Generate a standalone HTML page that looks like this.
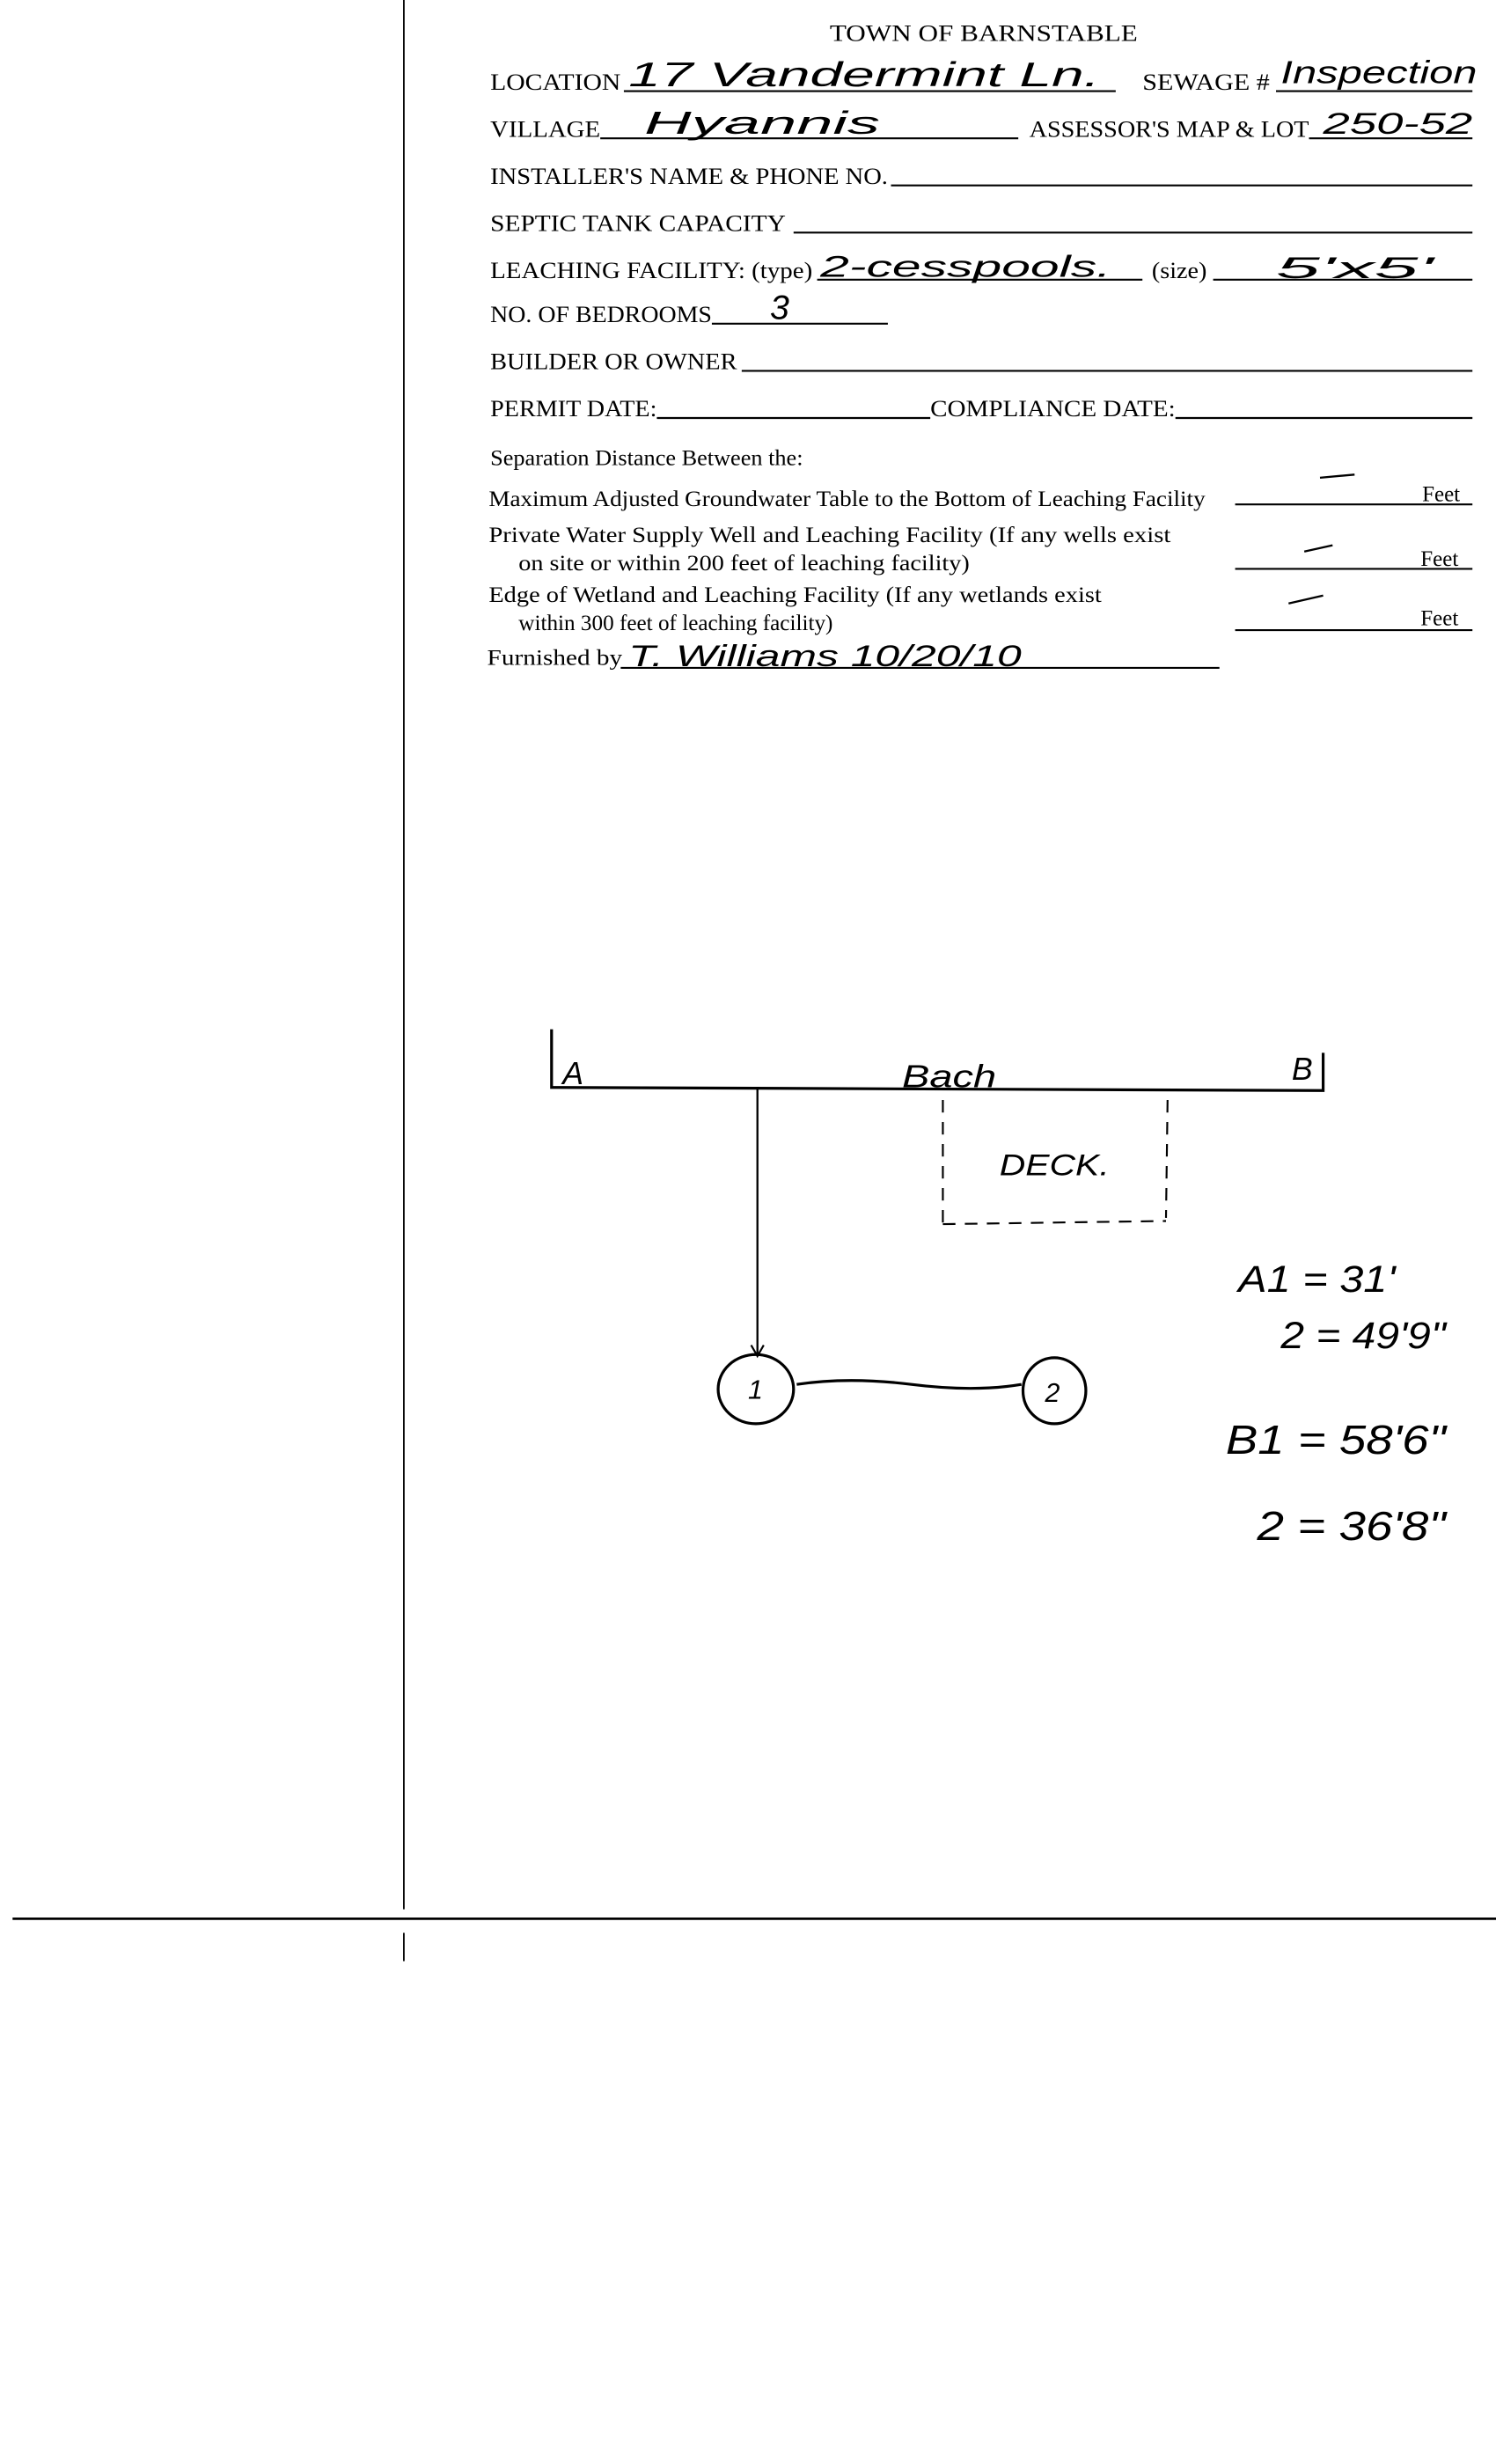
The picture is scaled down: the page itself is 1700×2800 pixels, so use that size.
<!DOCTYPE html>
<html><head><meta charset="utf-8"><style>
html,body{margin:0;padding:0;background:#fff;}
svg{display:block;}
.f{font-family:"Liberation Serif",serif;font-size:15px;fill:#000;}
.s{font-family:"Liberation Serif",serif;font-size:14px;fill:#000;}
.h{font-family:"DejaVu Sans ExtraLight","Liberation Sans",sans-serif;font-style:italic;fill:#000;font-weight:200;}
</style></head><body>
<svg width="1700" height="2800" viewBox="0 0 952 1568" preserveAspectRatio="none" xmlns="http://www.w3.org/2000/svg">
<rect width="952" height="1568" fill="#fff"/>
<g stroke="#000" fill="none">
<line x1="257" y1="0" x2="257" y2="1215" stroke-width="1"/>
<line x1="257" y1="1230" x2="257" y2="1248" stroke-width="1"/>
<line x1="8" y1="1221" x2="952" y2="1221" stroke-width="1.5"/>
<g stroke-width="1.2">
<line x1="397" y1="58" x2="710" y2="58"/><line x1="812" y1="58" x2="937" y2="58"/>
<line x1="382" y1="88" x2="648" y2="88"/><line x1="833" y1="88" x2="937" y2="88"/>
<line x1="567" y1="118" x2="937" y2="118"/>
<line x1="505" y1="148" x2="937" y2="148"/>
<line x1="520" y1="178" x2="727" y2="178"/><line x1="772" y1="178" x2="937" y2="178"/>
<line x1="453" y1="206" x2="565" y2="206"/>
<line x1="472" y1="236" x2="937" y2="236"/>
<line x1="418" y1="266" x2="592" y2="266"/><line x1="748" y1="266" x2="937" y2="266"/>
<line x1="786" y1="321" x2="937" y2="321"/>
<line x1="786" y1="362" x2="937" y2="362"/>
<line x1="786" y1="401" x2="937" y2="401"/>
<line x1="395" y1="425" x2="776" y2="425"/>
</g>
<g stroke-width="1.3">
<line x1="840" y1="304" x2="862" y2="302"/>
<line x1="830" y1="351" x2="848" y2="347"/>
<line x1="820" y1="384" x2="842" y2="379"/>
</g>
<g stroke-width="1.8">
<polyline points="351,655 351,692 842,694 842,670"/>
<line x1="482" y1="693" x2="482" y2="862" stroke-width="1.3"/>
<polyline points="478,856 482,863 486,856" stroke-width="1.2"/>
<ellipse cx="481" cy="884" rx="24" ry="22"/>
<ellipse cx="671" cy="885" rx="20" ry="21"/>
<path d="M507 881 Q540 876 580 881 T650 881"/>
</g>
<g stroke-width="1.2" stroke-dasharray="8,6">
<line x1="600" y1="700" x2="600" y2="780"/>
<line x1="743" y1="700" x2="742" y2="775"/>
<line x1="600" y1="779" x2="742" y2="777"/>
</g>
</g>
<text class="f" x="626" y="26" text-anchor="middle" textLength="196" lengthAdjust="spacingAndGlyphs">TOWN OF BARNSTABLE</text>
<text class="f" x="312" y="57" textLength="83" lengthAdjust="spacingAndGlyphs">LOCATION</text>
<text class="f" x="727" y="57" textLength="81" lengthAdjust="spacingAndGlyphs">SEWAGE #</text>
<text class="f" x="312" y="87" textLength="70" lengthAdjust="spacingAndGlyphs">VILLAGE</text>
<text class="f" x="655" y="87" textLength="178" lengthAdjust="spacingAndGlyphs">ASSESSOR'S MAP &amp; LOT</text>
<text class="f" x="312" y="117" textLength="253" lengthAdjust="spacingAndGlyphs">INSTALLER'S NAME &amp; PHONE NO.</text>
<text class="f" x="312" y="147" textLength="188" lengthAdjust="spacingAndGlyphs">SEPTIC TANK CAPACITY</text>
<text class="f" x="312" y="177" textLength="205" lengthAdjust="spacingAndGlyphs">LEACHING FACILITY: (type)</text>
<text class="f" x="733" y="177" textLength="35" lengthAdjust="spacingAndGlyphs">(size)</text>
<text class="f" x="312" y="205" textLength="141" lengthAdjust="spacingAndGlyphs">NO. OF BEDROOMS</text>
<text class="f" x="312" y="235" textLength="157" lengthAdjust="spacingAndGlyphs">BUILDER OR OWNER</text>
<text class="f" x="312" y="265" textLength="106" lengthAdjust="spacingAndGlyphs">PERMIT DATE:</text>
<text class="f" x="592" y="265" textLength="156" lengthAdjust="spacingAndGlyphs">COMPLIANCE  DATE:</text>
<text class="s" x="312" y="296" textLength="199" lengthAdjust="spacingAndGlyphs">Separation Distance Between the:</text>
<text class="s" x="311" y="322" textLength="456" lengthAdjust="spacingAndGlyphs">Maximum Adjusted Groundwater Table to the Bottom of Leaching Facility</text>
<text class="s" x="311" y="345" textLength="434" lengthAdjust="spacingAndGlyphs">Private Water Supply Well and Leaching Facility  (If any wells exist</text>
<text class="s" x="330" y="363" textLength="287" lengthAdjust="spacingAndGlyphs">on site or within 200 feet of leaching facility)</text>
<text class="s" x="311" y="383" textLength="390" lengthAdjust="spacingAndGlyphs">Edge of Wetland and Leaching Facility (If any wetlands exist</text>
<text class="s" x="330" y="401" textLength="200" lengthAdjust="spacingAndGlyphs">within 300 feet of leaching facility)</text>
<text class="s" x="310" y="423" textLength="86" lengthAdjust="spacingAndGlyphs">Furnished by</text>
<text class="s" x="905" y="319">Feet</text>
<text class="s" x="904" y="360">Feet</text>
<text class="s" x="904" y="398">Feet</text>
<text class="h" x="400" y="55" font-size="22" textLength="300" lengthAdjust="spacingAndGlyphs">17 Vandermint Ln.</text>
<text class="h" x="815" y="53" font-size="20" textLength="125" lengthAdjust="spacingAndGlyphs">Inspection</text>
<text class="h" x="410" y="85" font-size="20" textLength="150" lengthAdjust="spacingAndGlyphs">Hyannis</text>
<text class="h" x="842" y="85" font-size="19" textLength="95" lengthAdjust="spacingAndGlyphs">250-52</text>
<text class="h" x="522" y="176" font-size="19" textLength="185" lengthAdjust="spacingAndGlyphs">2-cesspools.</text>
<text class="h" x="812" y="177" font-size="19" textLength="100" lengthAdjust="spacingAndGlyphs">5'x5'</text>
<text class="h" x="490" y="203" font-size="22">3</text>
<text class="h" x="400" y="424" font-size="19" textLength="250" lengthAdjust="spacingAndGlyphs">T. Williams 10/20/10</text>
<text class="h" x="358" y="690" font-size="20">A</text>
<text class="h" x="574" y="692" font-size="20" textLength="60" lengthAdjust="spacingAndGlyphs">Bach</text>
<text class="h" x="822" y="687" font-size="20">B</text>
<text class="h" x="636" y="748" font-size="19" textLength="70" lengthAdjust="spacingAndGlyphs">DECK.</text>
<text class="h" x="476" y="890" font-size="17">1</text>
<text class="h" x="665" y="892" font-size="17">2</text>
<text class="h" x="788" y="822" font-size="24" textLength="100" lengthAdjust="spacingAndGlyphs">A1 = 31'</text>
<text class="h" x="815" y="858" font-size="24" textLength="105" lengthAdjust="spacingAndGlyphs">2 = 49'9"</text>
<text class="h" x="780" y="925" font-size="26" textLength="140" lengthAdjust="spacingAndGlyphs">B1 = 58'6"</text>
<text class="h" x="800" y="980" font-size="26" textLength="120" lengthAdjust="spacingAndGlyphs">2 = 36'8"</text>
</svg>
</body></html>
